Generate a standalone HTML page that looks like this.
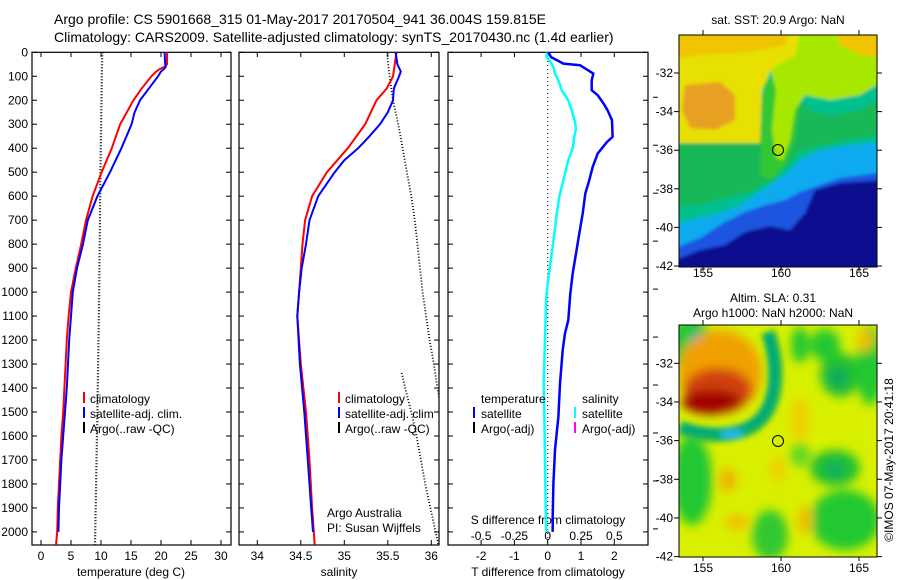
<!DOCTYPE html>
<html><head><meta charset="utf-8">
<style>
html,body{margin:0;padding:0;background:#fff;}
svg{display:block;font-family:"Liberation Sans",sans-serif;}
text{fill:#000;}
</style></head>
<body>
<svg id="fig" width="900" height="580" viewBox="0 0 900 580">
<defs>
<clipPath id="clipSST"><rect x="679" y="35" width="198" height="232"/></clipPath>
<clipPath id="clipSLA"><rect x="679" y="325" width="198" height="232"/></clipPath>
<clipPath id="clipP1"><rect x="32" y="52" width="199" height="493"/></clipPath>
<clipPath id="clipP2"><rect x="239" y="52" width="200" height="493"/></clipPath>
<clipPath id="clipP3"><rect x="448" y="52" width="200" height="493"/></clipPath>
<filter id="blurS" x="-5%" y="-5%" width="110%" height="110%"><feGaussianBlur stdDeviation="1.5"/></filter>
<filter id="blurM" x="-20%" y="-20%" width="140%" height="140%"><feGaussianBlur stdDeviation="3"/></filter>
<filter id="blurL" x="-20%" y="-20%" width="140%" height="140%"><feGaussianBlur stdDeviation="5"/></filter>
</defs>

<text x="54" y="24" font-size="14">Argo profile: CS 5901668_315 01-May-2017 20170504_941 36.004S 159.815E</text>
<text x="54" y="42" font-size="14">Climatology: CARS2009. Satellite-adjusted climatology: synTS_20170430.nc (1.4d earlier)</text>

<g id="axes"></g>
<g id="series"></g>

<g font-size="12">
<rect x="83" y="392" width="2" height="11" fill="#f00"/><text x="90" y="403">climatology</text>
<rect x="83" y="407" width="2" height="11" fill="#00f"/><text x="90" y="418">satellite-adj. clim.</text>
<rect x="83" y="422" width="2" height="11" fill="#000"/><text x="90" y="433">Argo(..raw -QC)</text>
</g>
<g font-size="12">
<rect x="338" y="392" width="2" height="11" fill="#f00"/><text x="345" y="403">climatology</text>
<rect x="338" y="407" width="2" height="11" fill="#00f"/><text x="345" y="418">satellite-adj. clim</text>
<rect x="338" y="422" width="2" height="11" fill="#000"/><text x="345" y="433">Argo(..raw -QC)</text>
</g>
<text x="327" y="517" font-size="12">Argo Australia</text>
<text x="327" y="532" font-size="12">PI: Susan Wijffels</text>
<g font-size="12">
<text x="481" y="403">temperature</text>
<rect x="473" y="407" width="2" height="11" fill="#00f"/><text x="481" y="418">satellite</text>
<rect x="473" y="422" width="2" height="11" fill="#000"/><text x="481" y="433">Argo(-adj)</text>
<text x="582" y="403">salinity</text>
<rect x="574" y="407" width="2" height="11" fill="#0ff"/><text x="582" y="418">satellite</text>
<rect x="574" y="422" width="2" height="11" fill="#f0f"/><text x="582" y="433">Argo(-adj)</text>
</g>

<g clip-path="url(#clipSST)">
<g filter="url(#blurS)">
<rect x="670" y="30" width="215" height="245" fill="#0a0a90"/>
<polygon fill="#1a55e0" points="670,30 885,30 885,180 840,183 815,190 805,213 790,230 770,226 745,232 725,245 700,250 670,262"/>
<polygon fill="#10aaf0" points="670,30 885,30 885,172 840,178 820,185 800,192 785,200 765,205 745,212 725,222 700,238 670,250"/>
<polygon fill="#00c090" points="670,30 885,30 885,142 850,145 820,150 800,160 785,175 770,185 755,195 740,205 720,213 700,218 670,225"/>
<polygon fill="#18b858" points="670,143 758,143 762,120 760,100 770,80 790,80 800,100 810,110 830,115 860,110 885,95 885,135 850,140 820,146 800,152 785,168 770,182 750,192 720,200 700,205 670,208"/>
<polygon fill="#30c830" points="765,80 790,80 800,100 795,140 785,165 770,180 760,175 762,120"/>
<polygon fill="#a8e800" points="763,30 885,30 885,80 860,95 830,100 805,95 795,110 790,140 783,160 776,158 772,130 776,90 768,60"/>
<polygon fill="#e8e000" points="670,30 800,30 795,55 772,68 762,90 760,143 670,143"/>
<polygon fill="#f0c400" points="670,30 790,30 785,45 750,52 700,55 670,60"/>
<polygon fill="#f0c400" points="835,30 885,30 885,58 860,55 840,45"/>
<polygon fill="#e8a020" points="685,85 720,82 735,95 735,120 715,130 690,128 682,110"/>
</g>
</g>
<rect x="679" y="35" width="198" height="232" fill="none" stroke="#000" stroke-width="1"/>
<circle cx="778" cy="150" r="5.5" fill="none" stroke="#000" stroke-width="1"/>
<text x="778" y="24" font-size="12" text-anchor="middle">sat. SST: 20.9 Argo: NaN</text>

<g clip-path="url(#clipSLA)">
<rect x="679" y="325" width="198" height="232" fill="#d8f000"/>
<g filter="url(#blurL)">
<ellipse cx="690" cy="345" rx="22" ry="28" fill="#20c830"/>
<ellipse cx="700" cy="342" rx="11" ry="9" fill="#20a0d0"/>
<ellipse cx="692" cy="480" rx="20" ry="45" fill="#20c830"/>
<ellipse cx="825" cy="345" rx="15" ry="16" fill="#20c830"/>
<ellipse cx="870" cy="365" rx="14" ry="40" fill="#20c830"/>
<ellipse cx="840" cy="375" rx="20" ry="22" fill="#20c030"/>
<ellipse cx="838" cy="378" rx="9" ry="10" fill="#10a860"/>
<ellipse cx="835" cy="468" rx="25" ry="18" fill="#20c030"/>
<ellipse cx="835" cy="470" rx="10" ry="8" fill="#10b060"/>
<ellipse cx="845" cy="520" rx="35" ry="30" fill="#20c830"/>
<ellipse cx="770" cy="535" rx="18" ry="25" fill="#30c830"/>
<ellipse cx="800" cy="455" rx="10" ry="12" fill="#60d820"/>
<ellipse cx="800" cy="345" rx="9" ry="18" fill="#20c830"/>
<ellipse cx="720" cy="372" rx="42" ry="42" fill="#f0a000"/>
<ellipse cx="718" cy="390" rx="34" ry="22" fill="#d04010"/>
<ellipse cx="712" cy="402" rx="30" ry="12" fill="#a00000"/>
<ellipse cx="728" cy="480" rx="8" ry="12" fill="#f0b000"/>
<ellipse cx="800" cy="420" rx="10" ry="22" fill="#f0d000"/>
<ellipse cx="778" cy="470" rx="8" ry="14" fill="#f0d000"/>
<ellipse cx="737" cy="522" rx="12" ry="8" fill="#f0c000"/>
<ellipse cx="805" cy="520" rx="8" ry="14" fill="#f0c000"/>
<ellipse cx="865" cy="340" rx="8" ry="12" fill="#f0c000"/>
</g>
<g filter="url(#blurM)">
<path d="M768,332 C778,360 780,400 760,420 C745,435 715,440 680,428" fill="none" stroke="#10b060" stroke-width="14"/>
<path d="M768,335 C776,362 776,400 758,418 C744,430 716,436 680,426" fill="none" stroke="#00a880" stroke-width="6"/>
<ellipse cx="732" cy="434" rx="12" ry="5" fill="#20b8e8"/>
</g>
</g>
<rect x="679" y="325" width="198" height="232" fill="none" stroke="#000" stroke-width="1"/>
<circle cx="778" cy="441" r="5.5" fill="none" stroke="#000" stroke-width="1"/>
<text x="773" y="302" font-size="12" text-anchor="middle">Altim. SLA: 0.31</text>
<text x="773" y="317" font-size="12" text-anchor="middle">Argo h1000: NaN h2000: NaN</text>
<text transform="translate(893,460) rotate(-90)" font-size="12" text-anchor="middle">©IMOS 07-May-2017 20:41:18</text>
<g id="mapaxes" font-size="12"></g>

<script>
const depthTicks = [0,100,200,300,400,500,600,700,800,900,1000,1100,1200,1300,1400,1500,1600,1700,1800,1900,2000];
const tempTicks = [0,5,10,15,20,25,30];
const salTicks = [34,34.5,35,35.5,36];
const salTickLabels = ["34","34.5","35","35.5","36"];
const tdiffTicks = [-2,-1,0,1,2];
const sdiffTicks = [-0.5,-0.25,0,0.25,0.5];
const sdiffTickLabels = ["-0.5","-0.25","0","0.25","0.5"];

const tempDepths = [0,50,60,70,80,100,150,200,250,300,400,500,600,700,800,900,1000,1100,1200,1300,1400,1500,1600,1700,1800,1900,2000,2054];
const tempClim = [21.0,21.0,20.6,19.8,19.2,18.4,16.8,15.4,14.3,13.2,11.8,10.1,8.6,7.5,6.7,5.8,5.0,4.6,4.3,4.1,3.9,3.7,3.4,3.2,3.0,2.8,2.7,2.5];
const tempSatDepths = [0,50,60,70,80,100,150,200,250,300,400,500,600,700,800,900,1000,1100,1200,1300,1400,1500,1600,1700,1800,1900,2000];
const tempSat = [20.6,20.7,20.8,20.5,20.0,19.5,18.0,16.5,15.6,15.1,13.4,11.5,9.4,7.8,7.0,6.0,5.3,5.0,4.7,4.5,4.3,4.0,3.7,3.4,3.2,3.0,2.9];
const tempArgoDepths = [0,500,1000,1500,2054];
const tempArgo = [10.2,9.9,9.7,9.4,9.0];

const salDepths = [0,100,150,200,300,400,500,600,700,800,900,1000,1100,1300,1500,1700,1900,2000,2054];
const salClim = [35.60,35.56,35.49,35.37,35.24,35.04,34.80,34.63,34.55,34.52,34.50,34.48,34.46,34.50,34.56,34.60,34.63,34.65,34.66];
const salSatDepths = [0,50,80,100,150,200,250,300,350,400,450,500,600,700,800,900,1000,1100,1300,1500,1700,1900,2000];
const salSat = [35.59,35.61,35.65,35.63,35.57,35.56,35.50,35.41,35.29,35.16,35.00,34.89,34.70,34.60,34.56,34.51,34.48,34.46,34.49,34.54,34.58,34.62,34.64];
const salArgoADepths = [0,100,200,300,400,500,600,700,800,900,1000,1100,1200,1300,1400,1480];
const salArgoA = [35.49,35.52,35.56,35.62,35.67,35.72,35.77,35.81,35.84,35.87,35.90,35.94,35.98,36.03,36.07,36.11];
const salArgoBDepths = [1337,1400,1500,1600,1700,1800,1900,2000,2054];
const salArgoB = [35.66,35.70,35.77,35.83,35.88,35.93,35.99,36.05,36.08];

const tdiffDepths = [0,20,47,54,89,117,158,179,214,242,283,353,374,422,478,533,589,672,756,839,922,1006,1117,1172,1242,1381,1519,1658,1797,1936,2000];
const tdiffSat = [0.02,0.1,0.47,0.97,1.37,1.32,1.32,1.5,1.68,1.8,1.93,1.95,1.78,1.5,1.35,1.25,1.13,1.05,0.95,0.85,0.75,0.68,0.62,0.52,0.45,0.37,0.32,0.22,0.17,0.15,0.15];
const sdiffDepths = [0,20,40,60,89,117,158,200,242,290,320,353,400,450,533,600,672,756,839,922,1006,1033,1381,1519,1797,2000];
const sdiffSat = [-0.005,-0.008,0.02,0.042,0.055,0.08,0.105,0.155,0.18,0.205,0.212,0.2,0.188,0.155,0.118,0.088,0.068,0.05,0.03,0.01,-0.008,-0.012,-0.03,-0.025,-0.018,-0.012];

const mapLatTicks = [-32,-34,-36,-38,-40,-42];
const mapLonTicks = [155,160,165];

const NS = "http://www.w3.org/2000/svg";
const yD = d => 52.3 + d * 0.2398;
const xT = t => 41 + 6 * t;
const xS = s => 257.3 + 87 * (s - 34);
const xTD = t => 547.7 + 33.3 * t;
const xSD = s => 547.7 + 133.2 * s;
const lonX = lon => 703 + 15.6 * (lon - 155);
const latY1 = lat => 73 + 19.3 * (-32 - lat);
const latY2 = lat => 363.3 + 19.33 * (-32 - lat);

function mk(tag, attrs, parent) {
  const e = document.createElementNS(NS, tag);
  for (const k in attrs) e.setAttribute(k, attrs[k]);
  parent.appendChild(e);
  return e;
}
const axes = document.getElementById('axes');
const series = document.getElementById('series');
const mapaxes = document.getElementById('mapaxes');

const panels = [
  {x0:32, x1:231, name:'temperature-panel'},
  {x0:239, x1:439, name:'salinity-panel'},
  {x0:448, x1:648, name:'difference-panel'}
];
panels.forEach(p => {
  const r = mk('rect', {x:p.x0, y:52.3, width:p.x1-p.x0, height:492.7, fill:'none', stroke:'#000', 'stroke-width':1.2}, axes);
  
  
  depthTicks.forEach(d => {
    mk('line', {x1:p.x0, x2:p.x0+5, y1:yD(d), y2:yD(d), stroke:'#000'}, axes);
    mk('line', {x1:p.x1, x2:p.x1-5, y1:yD(d), y2:yD(d), stroke:'#000'}, axes);
  });
});
depthTicks.forEach(d => {
  const t = mk('text', {x:28, y:yD(d)+4, 'font-size':12, 'text-anchor':'end'}, axes);
  t.textContent = d;
  
  
});
depthTicks.forEach((d,i) => { if (i % 2 === 0 && d > 0) mk('line', {x1:653, x2:658, y1:yD(d)-3, y2:yD(d)-3, stroke:'#000'}, axes); });

function xAxis(ticks, labels, fx, y, tname) {
  ticks.forEach((v,i) => {
    mk('line', {x1:fx(v), x2:fx(v), y1:545, y2:540, stroke:'#000'}, axes);
    mk('line', {x1:fx(v), x2:fx(v), y1:52.3, y2:57, stroke:'#000'}, axes);
    const t = mk('text', {x:fx(v), y:y, 'font-size':12, 'text-anchor':'middle'}, axes);
    t.textContent = labels[i];
    
    
  });
}
xAxis(tempTicks, tempTicks.map(String), xT, 560, 'temperature');
xAxis(salTicks, salTickLabels, xS, 560, 'salinity');
xAxis(tdiffTicks, tdiffTicks.map(String), xTD, 560, 'tdiff');
sdiffTicks.forEach((v,i) => {
  const t = mk('text', {x:xSD(v), y:540, 'font-size':12, 'text-anchor':'middle'}, axes);
  t.textContent = sdiffTickLabels[i];
  
  
});
const titles = [[131,'temperature (deg C)','x-axis-title-temperature'],[339,'salinity','x-axis-title-salinity'],[548,'T difference from climatology','x-axis-title-tdiff']];
titles.forEach(tt => {
  const t = mk('text', {x:tt[0], y:576, 'font-size':12, 'text-anchor':'middle'}, axes);
  t.textContent = tt[1];
  
  
});
const st = mk('text', {x:548, y:524, 'font-size':12, 'text-anchor':'middle'}, axes);
st.textContent = 'S difference from climatology';



function line(depths, vals, fx, color, w, dash, clip, name) {
  const pts = depths.map((d,i) => fx(vals[i]).toFixed(1) + ',' + yD(d).toFixed(1)).join(' ');
  const a = {points:pts, fill:'none', stroke:color, 'stroke-width':w, 'clip-path':'url(#'+clip+')'};
  if (dash) a['stroke-dasharray'] = dash;
  const pl = mk('polyline', a, series);
  
  
}
line(tempArgoDepths, tempArgo, xT, '#000', 2.2, '1 2', 'clipP1', 'temperature-argo-line');
line(tempDepths, tempClim, xT, '#f00', 2, null, 'clipP1', 'temperature-climatology-line');
line(tempSatDepths, tempSat, xT, '#00f', 2, null, 'clipP1', 'temperature-satellite-line');
line(salArgoADepths, salArgoA, xS, '#000', 1.8, '1 2', 'clipP2', 'salinity-argo-line-a');
line(salArgoBDepths, salArgoB, xS, '#000', 1.8, '1 2', 'clipP2', 'salinity-argo-line-b');
line(salDepths, salClim, xS, '#f00', 2, null, 'clipP2', 'salinity-climatology-line');
line(salSatDepths, salSat, xS, '#00f', 2, null, 'clipP2', 'salinity-satellite-line');
mk('line', {x1:xTD(0), x2:xTD(0), y1:53, y2:545, stroke:'#000', 'stroke-width':1, 'stroke-dasharray':'1 3'}, series);
line(sdiffDepths, sdiffSat, xSD, '#0ff', 2.5, null, 'clipP3', 'salinity-difference-line');
line(tdiffDepths, tdiffSat, xTD, '#00f', 2.5, null, 'clipP3', 'temperature-difference-line');

[[latY1, 35, 267, 277],[latY2, 325, 557, 572]].forEach(m => {
  mapLatTicks.forEach(lat => {
    const y = m[0](lat);
    mk('line', {x1:674, x2:679, y1:y, y2:y, stroke:'#000'}, mapaxes);
    mk('line', {x1:877, x2:882, y1:y, y2:y, stroke:'#000'}, mapaxes);
    const t = mk('text', {x:673, y:y+4, 'text-anchor':'end'}, mapaxes);
    t.textContent = lat;
    
    
  });
  mapLonTicks.forEach(lon => {
    const x = lonX(lon);
    mk('line', {x1:x, x2:x, y1:m[1]-5, y2:m[1], stroke:'#000'}, mapaxes);
    mk('line', {x1:x, x2:x, y1:m[2], y2:m[2]+4, stroke:'#000'}, mapaxes);
    const t = mk('text', {x:x, y:m[3], 'text-anchor':'middle'}, mapaxes);
    t.textContent = lon;
    
    
  });
});
</script>
</svg>
</body></html>
